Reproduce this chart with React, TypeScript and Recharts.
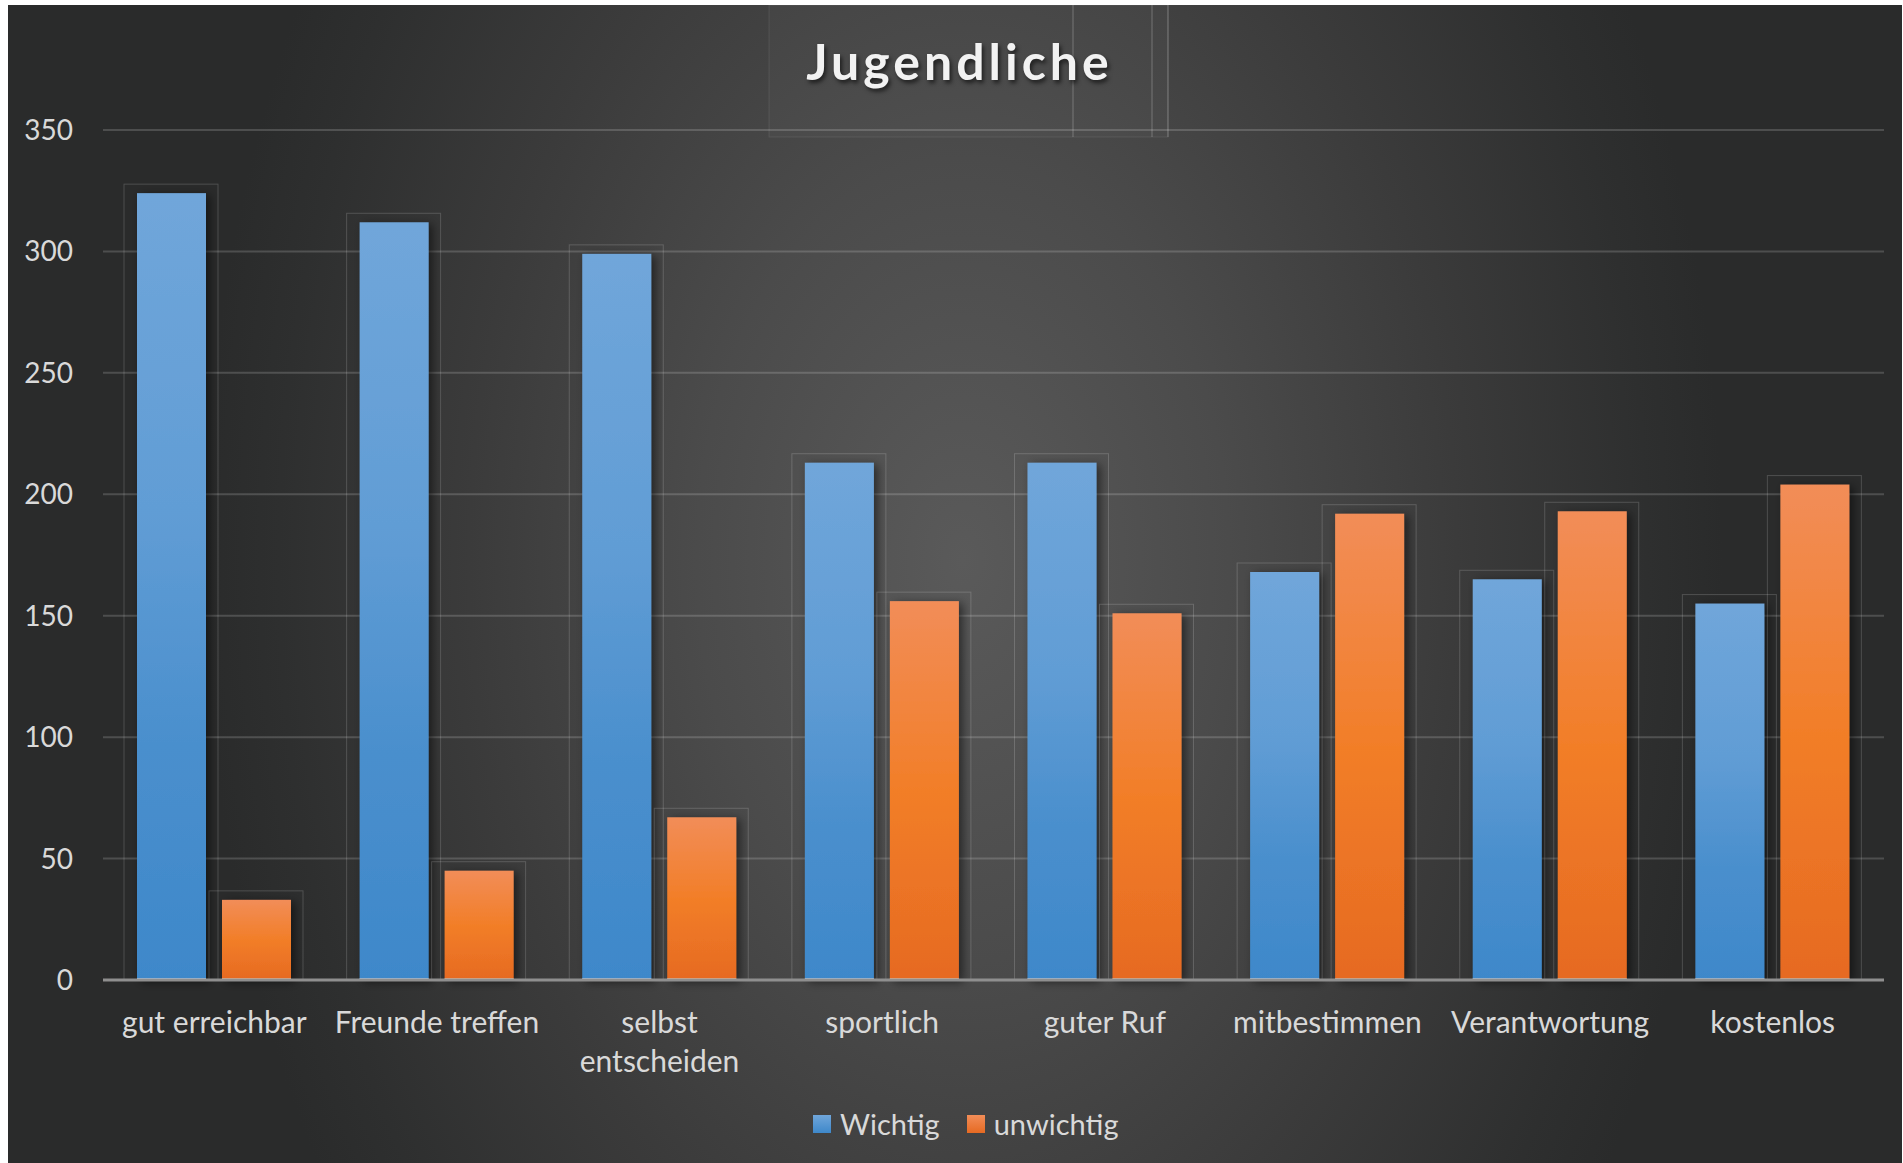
import React from 'react';
import { BarChart, Bar, XAxis, YAxis, CartesianGrid, Legend } from 'recharts';

const categories = [
  'gut erreichbar',
  'Freunde treffen',
  'selbst entscheiden',
  'sportlich',
  'guter Ruf',
  'mitbestimmen',
  'Verantwortung',
  'kostenlos',
];
const wichtig = [324, 312, 299, 213, 213, 168, 165, 155];
const unwichtig = [33, 45, 67, 156, 151, 192, 193, 204];
const yTicks = [0, 50, 100, 150, 200, 250, 300, 350];
const seriesNames = ['Wichtig', 'unwichtig'];

const data = categories.map((name, i) => ({
  name,
  wichtig: wichtig[i],
  unwichtig: unwichtig[i],
}));

const FONT = 'Lato, "Open Sans", sans-serif';
const LABEL = '#d9d9d9';
const W = 1894;
const H = 1158;

const BLUE_CSS = 'linear-gradient(#70a6da, #3e88ca)';
const ORANGE_CSS = 'linear-gradient(#f28d58, #e66a22)';

function GlowBar(props: any) {
  const { x, y, width, height, fill, edge } = props;
  if (!height || height <= 0) return null;
  return (
    <g>
      <rect
        x={x - 13}
        y={y - 9}
        width={width + 25}
        height={height + 9}
        fill="none"
        stroke="rgba(255,255,255,0.17)"
        strokeWidth={1}
      />
      <rect x={x} y={y} width={width} height={height} fill={fill} filter="url(#barShadow)" />
      <rect x={x} y={y + height - 2} width={width} height={2} fill={edge} />
    </g>
  );
}

// long labels (more than ~16 chars) go on two lines, like the original
function CategoryTick(props: any) {
  const { x, y, payload } = props;
  const label: string = payload.value;
  const lines = label.length > 16 ? label.split(' ') : [label];
  return (
    <text x={x} y={y + 53} textAnchor="middle" fill={LABEL} fontSize={30} fontFamily={FONT}>
      {lines.map((l, i) => (
        <tspan key={i} x={x} dy={i === 0 ? 0 : 39}>
          {l}
        </tspan>
      ))}
    </text>
  );
}

function LegendContent() {
  const swatches = [BLUE_CSS, ORANGE_CSS];
  return (
    <div style={{ display: 'flex', alignItems: 'center', height: 38, fontFamily: FONT }}>
      {seriesNames.map((n, i) => (
        <div key={n} style={{ display: 'flex', alignItems: 'center', marginRight: i === 0 ? 27 : 0 }}>
          <span style={{ width: 18, height: 18, background: swatches[i], marginRight: 9 }} />
          <span style={{ fontSize: 29, color: LABEL, lineHeight: '38px' }}>{n}</span>
        </div>
      ))}
    </div>
  );
}

export default function App() {
  return (
    <div
      style={{
        position: 'absolute',
        left: 8,
        top: 5,
        width: W,
        height: H,
        fontFamily: FONT,
        background:
          'radial-gradient(ellipse 760px 1150px at 955px 555px, #5a5a5a 0%, #4b4b4b 35%, #3b3b3b 65%, #2e2f2f 90%, #2a2b2b 100%)',
      }}
    >
      <svg width={W} height={140} style={{ position: 'absolute', left: 0, top: 0 }}>
        <rect x={761} y={0} width={399} height={132} fill="rgba(255,255,255,0.025)" stroke="rgba(255,255,255,0.08)" />
        <line x1={1065} y1={0} x2={1065} y2={132} stroke="rgba(255,255,255,0.25)" />
        <line x1={1144} y1={0} x2={1144} y2={132} stroke="rgba(255,255,255,0.25)" />
        <line x1={1160} y1={0} x2={1160} y2={132} stroke="rgba(255,255,255,0.25)" />
      </svg>
      <div
        style={{
          position: 'absolute',
          left: 0,
          top: 31,
          width: 1903,
          textAlign: 'center',
          fontSize: 50,
          lineHeight: '50px',
          fontWeight: 700,
          letterSpacing: 4,
          color: '#f2f2f2',
          textShadow: '2px 3px 4px rgba(0,0,0,0.6)',
        }}
      >
        Jugendliche
      </div>
      <BarChart
        width={W}
        height={H}
        data={data}
        margin={{ top: 125, right: 18, left: 0, bottom: 83 }}
        barSize={69}
        barGap={16}
        style={{ position: 'absolute', left: 0, top: 0 }}
      >
        <defs>
          <linearGradient id="gradBlue" x1="0" y1="0" x2="0" y2="1">
            <stop offset="0%" stopColor="#70a6da" />
            <stop offset="40%" stopColor="#619dd5" />
            <stop offset="70%" stopColor="#4a8fcd" />
            <stop offset="100%" stopColor="#3e88ca" />
          </linearGradient>
          <linearGradient id="gradOrange" x1="0" y1="0" x2="0" y2="1">
            <stop offset="0%" stopColor="#f28d58" />
            <stop offset="50%" stopColor="#f27e28" />
            <stop offset="100%" stopColor="#e66a22" />
          </linearGradient>
          <filter id="barShadow" x="-40%" y="-10%" width="180%" height="125%">
            <feDropShadow dx={4} dy={2} stdDeviation={5} floodColor="#000" floodOpacity={0.5} />
          </filter>
        </defs>
        <CartesianGrid vertical={false} stroke="rgba(255,255,255,0.17)" strokeWidth={2} />
        <XAxis
          dataKey="name"
          height={100}
          tickSize={0}
          tickMargin={0}
          tickLine={false}
          axisLine={{ stroke: '#8f8f8f', strokeWidth: 3 }}
          interval={0}
          tick={<CategoryTick />}
        />
        <YAxis
          width={95}
          domain={[0, 350]}
          ticks={yTicks}
          tickSize={0}
          tickMargin={30}
          tickLine={false}
          axisLine={false}
          tick={{ fill: LABEL, fontSize: 28, fontFamily: FONT }}
        />
        <Legend
          layout="horizontal"
          verticalAlign="middle"
          align="center"
          wrapperStyle={{ top: 1100, left: 805, width: 360, height: 38 }}
          content={() => <LegendContent />}
        />
        <Bar
          dataKey="wichtig"
          name={seriesNames[0]}
          fill="url(#gradBlue)"
          isAnimationActive={false}
          shape={(p: any) => <GlowBar {...p} edge="#a9cbee" />}
        />
        <Bar
          dataKey="unwichtig"
          name={seriesNames[1]}
          fill="url(#gradOrange)"
          isAnimationActive={false}
          shape={(p: any) => <GlowBar {...p} edge="#f9b488" />}
        />
      </BarChart>
    </div>
  );
}
